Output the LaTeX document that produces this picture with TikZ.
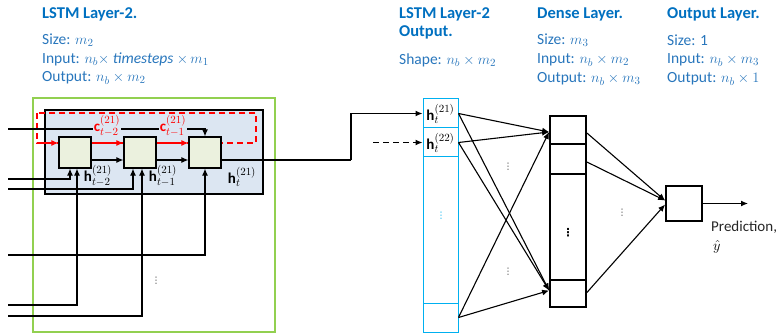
\documentclass[tikz,border=0pt]{standalone}
\usepackage{fontspec}
\setmainfont{Carlito}
\newfontfamily\dotfont{DejaVu Sans}
\usetikzlibrary{calc,arrows.meta}
\definecolor{headblue}{RGB}{0,112,192}
\definecolor{bodyblue}{RGB}{40,118,188}
\definecolor{greenline}{RGB}{146,208,80}
\definecolor{boxfill}{RGB}{220,230,242}
\definecolor{cellfill}{RGB}{235,241,222}
\definecolor{cyanline}{RGB}{0,176,240}
\tikzset{
  head/.style={anchor=west, inner sep=0, text=headblue, font=\fontsize{16.5}{19}\selectfont\bfseries},
  body/.style={anchor=west, inner sep=0, text=bodyblue, font=\fontsize{15.5}{18}\selectfont},
  conn/.style={line width=1.1pt, black},
  arr/.style={conn, -{Latex[length=7,width=6]}},
  redarr/.style={line width=1.1pt, red, -{Latex[length=7,width=6]}},
  cell/.style={draw=black, line width=1.2pt, fill=cellfill, minimum width=32, minimum height=31, inner sep=0},
  colcell/.style={draw=cyanline, line width=1pt, minimum width=35, inner sep=0},
  dcell/.style={draw=black, line width=1.8pt, minimum width=36, inner sep=0},
  mlabel/.style={inner sep=0.5, font=\fontsize{15}{17}\selectfont},
  dots/.style={inner sep=0, text=black!75, font=\dotfont\fontsize{9}{10}\selectfont},
}
\begin{document}
\begin{tikzpicture}[x=1pt,y=-1pt]
\useasboundingbox (0,0) rectangle (780,334);

% header texts
\node[head] (t1) at (42,14) {LSTM Layer-2.};
\node[body] (t1a) at (42,40) {Size: $m_2$};
\node[body] (t1b) at (42,59) {Input: $n_b\times$ \textit{timesteps} $\times\, m_1$};
\node[body] (t1c) at (42,78) {Output: $n_b\times m_2$};

\node[head] (t2) at (399,14) {LSTM Layer-2};
\node[head] (t2b) at (399,32) {Output.};
\node[body] (t2a) at (399,60) {Shape: $n_b\times m_2$};

\node[head] (t3) at (537,14) {Dense Layer.};
\node[body] (t3a) at (537,40) {Size: $m_3$};
\node[body] (t3b) at (537,60) {Input: $n_b\times m_2$};
\node[body] (t3c) at (537,79) {Output: $n_b\times m_3$};

\node[head] (t4) at (667,14) {Output Layer.};
\node[body] (t4a) at (667,40) {Size: 1};
\node[body] (t4b) at (667,60) {Input: $n_b\times m_3$};
\node[body] (t4c) at (667,79) {Output: $n_b\times 1$};

% LSTM layer frames
\draw[greenline, line width=1.3pt] (33,98) rectangle (275,332);
\draw[black, line width=1.5pt, fill=boxfill] (45,110) rectangle (263,194);
\draw[red, line width=1.1pt, dash pattern=on 6pt off 4pt] (37,113) rectangle (256,143);

% cells
\node[cell] (c1) at (75,152.5) {};
\node[cell] (c2) at (140,152.5) {};
\node[cell] (c3) at (205,152.5) {};

% red cell-state arrows
\coordinate (r0) at (37,143);
\draw[redarr] (r0) -- (r0 -| c1.west);
\draw[redarr] (r0 -| c1.east) -- (r0 -| c2.west);
\draw[redarr] (r0 -| c2.east) -- (r0 -| c3.west);

% black hidden-state arrows
\coordinate (b0) at (0,160);
\draw[arr] (b0 -| c1.east) -- (b0 -| c2.west);
\draw[arr] (b0 -| c2.east) -- (b0 -| c3.west);

% top line into cell 3
\coordinate (cin) at (8,129);
\draw[arr] (cin) -| (c3.north);
\node[mlabel, text=red, fill=boxfill] (lc1) at (107,126) {$\mathbf{c}_{t-2}^{(21)}$};
\node[mlabel, text=red, fill=boxfill] (lc2) at (173,126) {$\mathbf{c}_{t-1}^{(21)}$};

% inputs from below
\coordinate (i1) at (8,179);
\coordinate (i2) at (8,305);
\coordinate (i3) at (8,189);
\coordinate (i4) at (8,316);
\coordinate (i5) at (8,255);
\draw[arr] (i1) -| ($(c1.south)+(-5,0)$);
\draw[arr] (i2) -| ($(c1.south)+(2,0)$);
\draw[arr] (i3) -| ($(c2.south)+(-7,0)$);
\draw[arr] (i4) -| ($(c2.south)+(2,0)$);
\draw[arr] (i5) -| (c3.south);

\node[mlabel] (lh1) at (98,176) {$\mathbf{h}_{t-2}^{(21)}$};
\node[mlabel] (lh2) at (163,176) {$\mathbf{h}_{t-1}^{(21)}$};
\node[mlabel] (lh3) at (242,177) {$\mathbf{h}_{t}^{(21)}$};
\node[dots] (dl) at (156,281) {⋮};

% LSTM output column
\node[colcell, minimum height=29] (h1) at (440.5,113.5) {};
\node[colcell, minimum height=29] (h2) at (440.5,142.5) {};
\node[colcell, minimum height=146] (hm) at (440.5,230) {};
\node[colcell, minimum height=29] (hl) at (440.5,317.5) {};
\node[mlabel] (lh1c) at (440.5,114) {$\mathbf{h}_{t}^{(21)}$};
\node[mlabel] (lh2c) at (440.5,143) {$\mathbf{h}_{t}^{(22)}$};
\node[dots, text=cyanline] (dc) at (441,216) {⋮};

\coordinate (bend) at (351,160);
\draw[conn] ($(c3.east)+(0,7.5)$) -- (bend);
\draw[arr] (bend) |- (h1.west);
\coordinate (dsh) at (373,142.5);
\draw[arr, dash pattern=on 6pt off 4pt] (dsh) -- (h2.west);

% dense layer
\node[dcell, minimum height=28] (d1) at (568,130) {};
\node[dcell, minimum height=29] (d2) at (568,159) {};
\node[dcell, minimum height=106] (d3) at (568,227) {};
\node[dcell, minimum height=27] (d4) at (568,293.5) {};
\node[dots, font=\dotfont\fontsize{11}{12}\selectfont\bfseries, text=black] (dd) at (568,233) {⋮};

\draw[arr] (h1.east) -- ($(d1.west)+(0,2)$);
\draw[arr] (h1.east) -- ($(d4.west)+(0,-3)$);
\draw[arr] (h2.east) -- ($(d1.west)+(0,2)$);
\draw[arr] (h2.east) -- ($(d4.west)+(0,-3)$);
\draw[arr] (hl.east) -- ($(d1.west)+(0,2)$);
\draw[arr] (hl.east) -- ($(d4.west)+(0,-3)$);
\node[dots] (dm1) at (508,167) {⋮};
\node[dots] (dm2) at (508,272) {⋮};

% output layer
\node[dcell, minimum height=35] (o) at (684,203.5) {};
\draw[arr] ($(d1.east)+(0,3)$) -- ($(o.west)+(0,-3)$);
\draw[arr] ($(d2.east)+(0,3)$) -- ($(o.west)+(0,-3)$);
\draw[arr] ($(d4.east)+(0,-1)$) -- ($(o.west)+(0,1)$);
\node[dots] (do) at (622,213) {⋮};

\coordinate (pred) at (748,203.5);
\draw[arr] (o.east) -- (pred);
\node[anchor=west, inner sep=0, font=\fontsize{15}{18}\selectfont, text=black!85] (tp) at (711,227) {Prediction,};
\node[anchor=west, inner sep=0, font=\fontsize{15}{18}\selectfont] (ty) at (713,247) {$\hat{y}$};
\end{tikzpicture}
\end{document}
